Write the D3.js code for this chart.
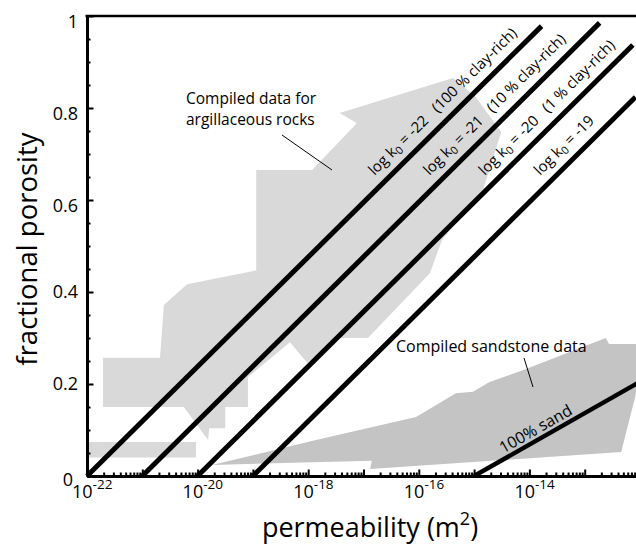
<!DOCTYPE html>
<html>
<head>
<meta charset="utf-8">
<script src="https://cdn.jsdelivr.net/npm/d3@7"></script>
<style>
  html, body { margin: 0; padding: 0; background: #fff; }
  svg { display: block; font-family: "Open Sans", "DejaVu Sans", sans-serif; }
</style>
</head>
<body>
<svg id="chart" width="636" height="548"></svg>
<script>
// Permeability is kept as log10(k / m^2); porosity as a fraction.

// Axis ticks
const xMajorDecades = [-22, -21, -20, -19, -18, -17, -16, -15, -14, -13, -12];
const xLabelDecades = [-22, -20, -18, -16, -14];
const yMajorTicks = [0, 0.2, 0.4, 0.6, 0.8, 1];
const yMinorTicks = [0.05, 0.1, 0.15, 0.25, 0.3, 0.35, 0.45, 0.5, 0.55, 0.65, 0.7, 0.75, 0.85, 0.9, 0.95];
const yTickLabels = ["0", "0.2", "0.4", "0.6", "0.8", "1"];

// Compiled data envelope for argillaceous rocks  [log10 k, porosity]
const argillaceousEnvelope = [
  [-18.94, 0.665], [-18.94, 0.447], [-20.19, 0.417], [-20.61, 0.372],
  [-20.68, 0.257], [-21.71, 0.257], [-21.71, 0.150], [-20.25, 0.150],
  [-19.81, 0.078], [-19.79, 0.104], [-19.50, 0.104], [-19.50, 0.150],
  [-19.09, 0.150], [-19.09, 0.215], [-18.33, 0.291], [-18.02, 0.246],
  [-17.46, 0.300], [-16.92, 0.300], [-15.80, 0.441], [-15.58, 0.513],
  [-14.83, 0.625], [-14.51, 0.748], [-14.97, 0.824], [-15.38, 0.865],
  [-17.43, 0.789], [-17.12, 0.767], [-17.93, 0.665]
];
// Low-porosity strip of the same compilation
const argillaceousStrip = [
  [-22, 0.040], [-20.03, 0.040], [-20.03, 0.074], [-22, 0.074]
];

// Compiled sandstone data envelope
const sandstoneEnvelope = [
  [-19.74, 0.024], [-17.86, 0.078], [-16.05, 0.128], [-15.33, 0.180],
  [-15.02, 0.183], [-14.73, 0.204], [-14.12, 0.230], [-12.62, 0.300],
  [-12.56, 0.287], [-12.00, 0.287], [-12.00, 0.213], [-12.34, 0.052],
  [-16.88, 0.015], [-16.85, 0.033]
];

// Model curves for clay-rich material: start at log k0 (porosity 0)
const clayLogK0 = [-22, -21, -20, -19];
const clayEndLogK = [-13.78, -12.73, -12.13, -12.08];
const clayEndPorosity = [0.978, 0.985, 0.937, 0.824];
const clayTags = ["(100 % clay-rich)", "(10 % clay-rich)", "(1 % clay-rich)", ""];
const clayLabelPorosity = 0.635;

// Pure sand curve
const sandLine = [[-15, 0], [-12, 0.205]];

const svg = d3.select("#chart");
const m = { left: 87, top: 16, right: 640, bottom: 476 };

const x = d3.scaleLog().domain([1e-22, 1e-12]).range([m.left, m.right]);
const y = d3.scaleLinear().domain([0, 1]).range([m.bottom, m.top]);
const px = d => x(Math.pow(10, d[0]));
const py = d => y(d[1]);

svg.append("defs").append("clipPath").attr("id", "plot")
  .append("rect").attr("x", m.left).attr("y", m.top)
  .attr("width", m.right - m.left).attr("height", m.bottom - m.top);

const poly = d3.line().x(px).y(py);
const plot = svg.append("g").attr("clip-path", "url(#plot)");

plot.append("path").attr("d", poly(argillaceousEnvelope) + "Z").attr("fill", "#d9d9d9");
plot.append("path").attr("d", poly(argillaceousStrip) + "Z").attr("fill", "#d9d9d9");
plot.append("path").attr("d", poly(sandstoneEnvelope) + "Z").attr("fill", "#c4c4c4");

// clay-rich lines
const clayLines = clayLogK0.map((k0, i) => [[k0, 0], [clayEndLogK[i], clayEndPorosity[i]]]);
clayLines.forEach(seg => {
  svg.append("path").attr("d", poly(seg)).attr("stroke", "#000")
    .attr("stroke-width", 5).attr("fill", "none");
});
plot.append("path").attr("d", poly(sandLine)).attr("stroke", "#000")
  .attr("stroke-width", 4.5).attr("fill", "none");

// axes
const minorX = [];
xMajorDecades.slice(0, -1).forEach(e => {
  for (let k = 2; k <= 9; k++) minorX.push(k * Math.pow(10, e));
});
const gx = svg.append("g").attr("transform", `translate(0,${m.bottom})`);
gx.call(d3.axisBottom(x).tickValues(minorX).tickSizeInner(-3.5).tickSizeOuter(0).tickFormat(""));
const gx2 = svg.append("g").attr("transform", `translate(0,${m.bottom})`);
gx2.call(d3.axisBottom(x).tickValues(xMajorDecades.map(e => Math.pow(10, e)))
  .tickSizeInner(-6.5).tickSizeOuter(0).tickFormat(""));
[gx, gx2].forEach(g => {
  g.select(".domain").attr("stroke-width", 3);
  g.selectAll(".tick line").attr("stroke-width", 2);
});

const gyMinor = svg.append("g").attr("transform", `translate(${m.left},0)`);
gyMinor.call(d3.axisLeft(y).tickValues(yMinorTicks).tickSizeInner(-3.5).tickSizeOuter(0).tickFormat(""));
const gy = svg.append("g").attr("transform", `translate(${m.left},0)`);
gy.call(d3.axisLeft(y).tickValues(yMajorTicks).tickSizeInner(-6.5).tickSizeOuter(0)
  .tickPadding(9).tickFormat((d, i) => yTickLabels[i]));
[gyMinor, gy].forEach(g => {
  g.select(".domain").attr("stroke-width", 3);
  g.selectAll(".tick line").attr("stroke-width", 2);
});
gy.selectAll(".tick text")
  .attr("font-size", 18).attr("font-family", "Open Sans").attr("fill", "#000")
  .attr("dy", d => d === 0 ? "0.55em" : (d >= 0.6 ? "0.62em" : "0.32em"))
  .attr("x", d => d === 0 ? -14 : -9);

// top frame
svg.append("line").attr("x1", m.left - 1.5).attr("x2", m.right).attr("y1", m.top).attr("y2", m.top)
  .attr("stroke", "#000").attr("stroke-width", 2.5);

// x tick labels 10^e
xLabelDecades.forEach(e => {
  const t = svg.append("text").attr("x", x(Math.pow(10, e)) - 15).attr("y", 498)
    .attr("font-size", 18).attr("fill", "#000");
  t.append("tspan").text("10");
  t.append("tspan").attr("font-size", 13.5).attr("dy", -9).text(String(e));
});

// axis titles
const xt = svg.append("text").attr("x", 370).attr("y", 537).attr("text-anchor", "middle")
  .attr("font-size", 27).attr("fill", "#000");
xt.append("tspan").text("permeability (m");
xt.append("tspan").attr("font-size", 18).attr("dy", -12).text("2");
xt.append("tspan").attr("dy", 12).text(")");

svg.append("text").attr("transform", "translate(37,249) rotate(-90)")
  .attr("text-anchor", "middle").attr("font-size", 27.5).attr("fill", "#000")
  .text("fractional porosity");

// line labels
clayLines.forEach((seg, i) => {
  const x0 = px(seg[0]), y0 = py(seg[0]), x1 = px(seg[1]), y1 = py(seg[1]);
  const a = Math.atan2(y1 - y0, x1 - x0);
  const t = clayLabelPorosity / seg[1][1];
  const lx = x0 + (x1 - x0) * t + Math.sin(a) * 11;
  const ly = y0 + (y1 - y0) * t - Math.cos(a) * 11;
  const txt = svg.append("text")
    .attr("transform", `translate(${lx},${ly}) rotate(${a * 180 / Math.PI})`)
    .attr("font-size", 15).attr("fill", "#000");
  txt.append("tspan").text("log k");
  txt.append("tspan").attr("font-size", 11).attr("dy", 3).text("0");
  txt.append("tspan").attr("dy", -3)
    .text(`\u00a0= ${clayLogK0[i]}` + (clayTags[i] ? "\u00a0\u00a0\u00a0" + clayTags[i] : ""));
});

// sand label
{
  const s0 = sandLine[0], s1 = sandLine[1];
  const x0 = px(s0), y0 = py(s0), x1 = px(s1), y1 = py(s1);
  const a = Math.atan2(y1 - y0, x1 - x0);
  const t = 0.19;
  const lx = x0 + (x1 - x0) * t + Math.sin(a) * 5;
  const ly = y0 + (y1 - y0) * t - Math.cos(a) * 5;
  svg.append("text").attr("transform", `translate(${lx},${ly}) rotate(${a * 180 / Math.PI})`)
    .attr("font-size", 16).attr("fill", "#000").text("100% sand");
}

// annotations
svg.append("text").attr("x", 186).attr("y", 104).attr("font-size", 15.5).attr("fill", "#000").text("Compiled data for");
svg.append("text").attr("x", 186).attr("y", 125).attr("font-size", 15.5).attr("fill", "#000").text("argillaceous rocks");
svg.append("line").attr("x1", 282).attr("y1", 135).attr("x2", 332).attr("y2", 170)
  .attr("stroke", "#000").attr("stroke-width", 1);

svg.append("text").attr("x", 396).attr("y", 352).attr("font-size", 16).attr("fill", "#000").text("Compiled sandstone data");
svg.append("line").attr("x1", 524).attr("y1", 358).attr("x2", 533).attr("y2", 387)
  .attr("stroke", "#000").attr("stroke-width", 1);
</script>
</body>
</html>
